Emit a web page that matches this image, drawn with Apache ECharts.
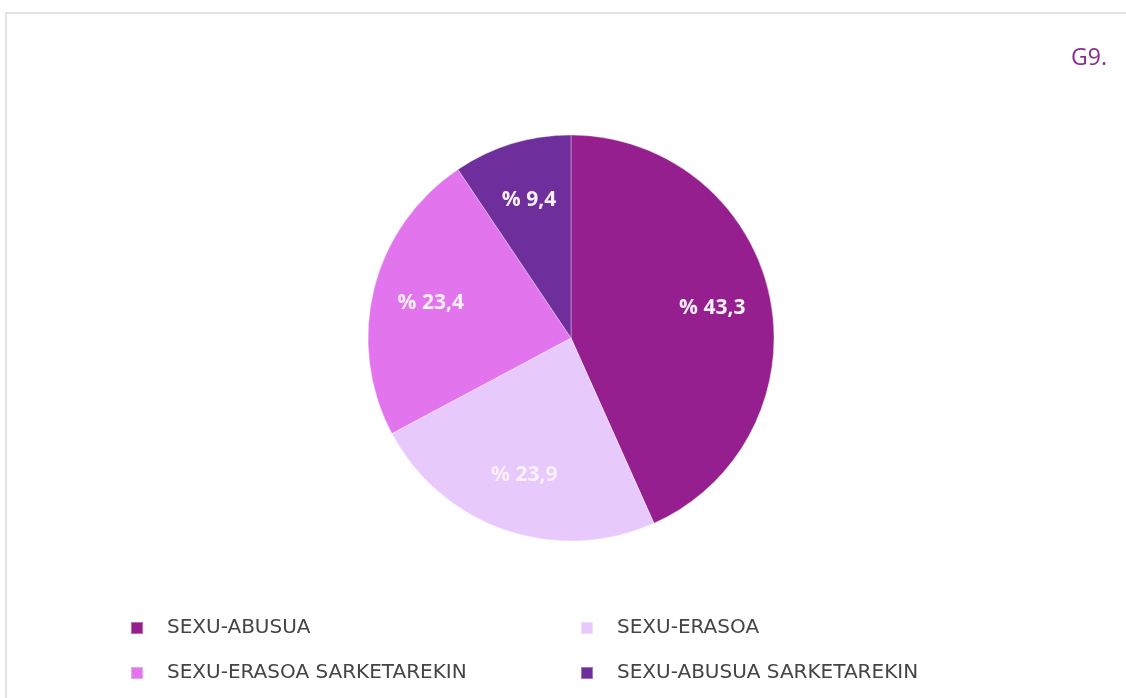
<!DOCTYPE html>
<html>
<head>
<meta charset="utf-8">
<script src="https://cdn.jsdelivr.net/npm/echarts@6/dist/echarts.min.js"></script>
<style>
  html, body { margin: 0; padding: 0; background: #fff; overflow: hidden; }
  #frame { position: absolute; left: 5px; top: 12px; width: 1300px; height: 900px;
           border-left: 2px solid #e2e2e2; border-top: 2px solid #e2e2e2; }
  #chart { position: absolute; left: 0; top: 0; width: 1126px; height: 698px; }
</style>
</head>
<body>
<div id="frame"></div>
<div id="chart"></div>
<script>
// slices, clockwise from 12 o'clock
const categories = ['SEXU-ABUSUA', 'SEXU-ERASOA', 'SEXU-ERASOA SARKETAREKIN', 'SEXU-ABUSUA SARKETAREKIN'];
const values = [43.3, 23.9, 23.4, 9.4];
const colors = ['#951f8f', '#e8c9fc', '#e274ee', '#6e2e9c'];

const pieData = categories.map((name, i) => ({ name: name, value: values[i], itemStyle: { color: colors[i] } }));

let myChart = echarts.init(document.getElementById('chart'));

const legendBase = {
    orient: 'vertical',
    top: 618,
    padding: 0,
    icon: 'rect',
    itemWidth: 12,
    itemHeight: 12,
    itemGap: 25,
    selectedMode: false,
    textStyle: {
        fontFamily: '"DejaVu Sans", sans-serif',
        fontSize: 20,
        lineHeight: 20,
        color: '#444',
        padding: [0, 0, 0, 19]
    }
};

myChart.setOption({
    animation: false,
    title: {
        text: 'G9.',
        right: 14,
        top: 42,
        textStyle: { fontFamily: '"Open Sans", sans-serif', fontSize: 23, fontWeight: 'normal', color: '#8e2b8e' }
    },
    legend: [
        Object.assign({}, legendBase, { left: 130, data: [categories[0], categories[2]] }),
        Object.assign({}, legendBase, { left: 580, data: [categories[1], categories[3]] })
    ],
    series: [
        {
            type: 'pie',
            center: [571, 338],
            radius: 203,
            startAngle: 90,
            data: pieData,
            label: { show: false },
            labelLine: { show: false },
            itemStyle: { borderColor: 'rgba(255,255,255,0.35)', borderWidth: 1 },
            emphasis: { disabled: true }
        },
        {
            // label-only ring so the percentages sit further out than mid-radius
            type: 'pie',
            center: [571, 338],
            radius: [80, 203],
            startAngle: 90,
            silent: true,
            data: categories.map((name, i) => ({ name: name, value: values[i] })),
            itemStyle: { color: 'transparent' },
            labelLine: { show: false },
            label: {
                show: true,
                position: 'inside',
                fontFamily: '"Open Sans", sans-serif',
                fontSize: 21,
                fontWeight: 'bold',
                color: '#f9eff9',
                formatter: p => '% ' + String(p.value).replace('.', ',')
            }
        }
    ]
});
</script>
</body>
</html>
